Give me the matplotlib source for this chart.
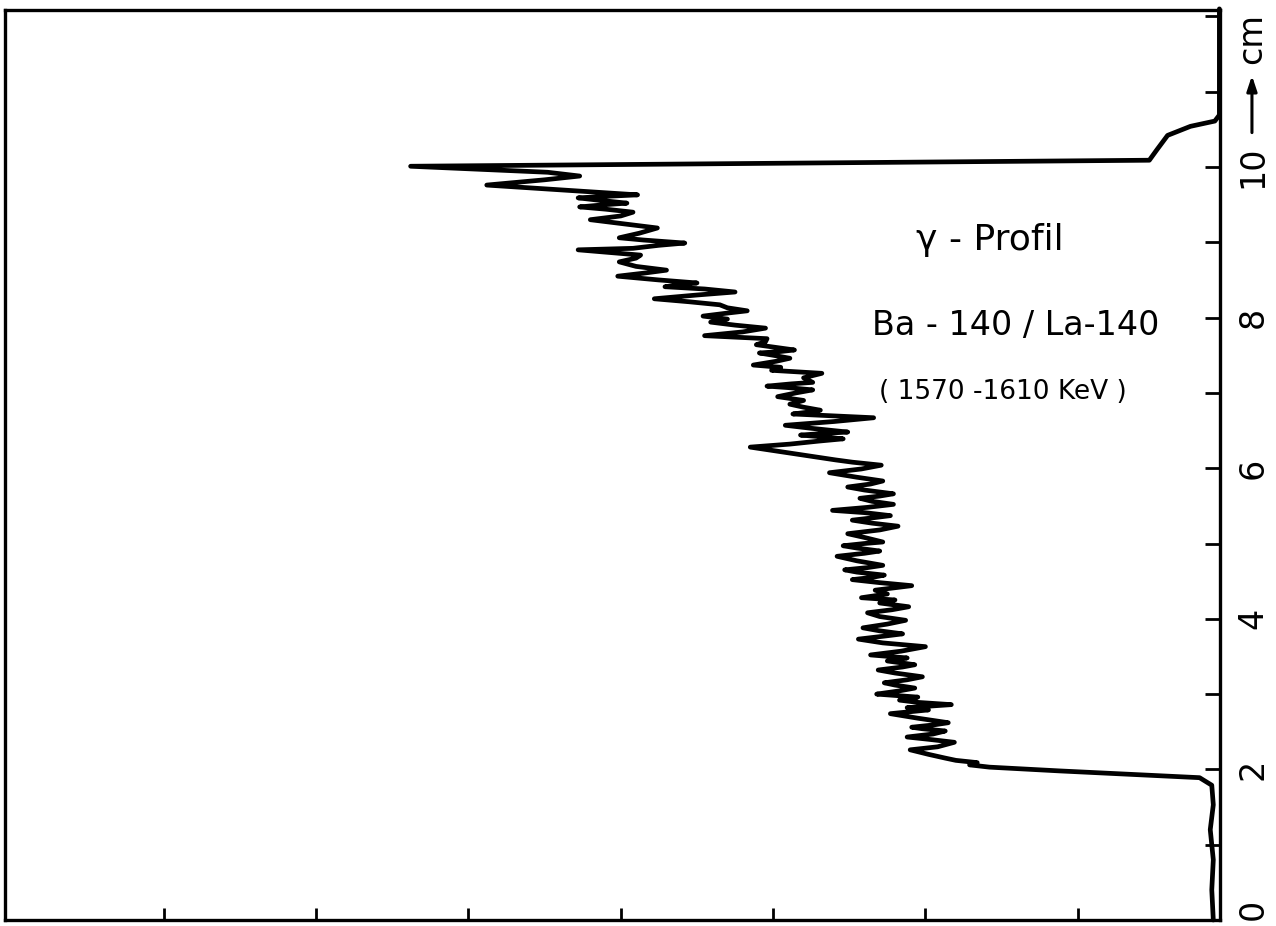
import matplotlib
matplotlib.use("Agg")
import matplotlib.pyplot as plt
from matplotlib.ticker import MultipleLocator, NullFormatter
import matplotlib.transforms as mtransforms

# Gamma scan along the sample: position (cm) and count-rate (arbitrary units)
position_cm = [
    0.00, 0.40, 0.80, 1.20, 1.53, 1.79, 1.89, 1.98, 2.03, 2.06,
    2.09, 2.12, 2.15, 2.20, 2.26, 2.30, 2.36, 2.40, 2.43, 2.47,
    2.51, 2.54, 2.56, 2.59, 2.62, 2.68, 2.74, 2.79, 2.82, 2.86,
    2.89, 2.92, 2.96, 3.00, 3.04, 3.08, 3.12, 3.15, 3.19, 3.23,
    3.28, 3.32, 3.36, 3.39, 3.44, 3.48, 3.52, 3.57, 3.63, 3.68,
    3.73, 3.77, 3.80, 3.84, 3.88, 3.93, 3.98, 4.03, 4.08, 4.12,
    4.16, 4.21, 4.25, 4.28, 4.33, 4.38, 4.44, 4.48, 4.52, 4.55,
    4.58, 4.62, 4.65, 4.68, 4.71, 4.77, 4.83, 4.87, 4.90, 4.94,
    4.97, 5.00, 5.02, 5.08, 5.13, 5.18, 5.23, 5.27, 5.31, 5.34,
    5.37, 5.41, 5.44, 5.48, 5.52, 5.56, 5.60, 5.63, 5.66, 5.71,
    5.75, 5.79, 5.83, 5.88, 5.94, 5.99, 6.04, 6.08, 6.11, 6.18,
    6.28, 6.32, 6.36, 6.39, 6.42, 6.44, 6.46, 6.48, 6.53, 6.57,
    6.62, 6.67, 6.70, 6.72, 6.75, 6.77, 6.81, 6.85, 6.90, 6.95,
    7.00, 7.04, 7.07, 7.09, 7.12, 7.14, 7.20, 7.26, 7.28, 7.30,
    7.34, 7.37, 7.42, 7.46, 7.50, 7.53, 7.55, 7.57, 7.61, 7.64,
    7.68, 7.72, 7.76, 7.81, 7.86, 7.90, 7.94, 7.98, 8.02, 8.06,
    8.09, 8.13, 8.17, 8.21, 8.25, 8.30, 8.34, 8.38, 8.41, 8.44,
    8.46, 8.50, 8.55, 8.59, 8.63, 8.68, 8.74, 8.79, 8.83, 8.90,
    8.92, 8.96, 8.99, 9.03, 9.06, 9.12, 9.19, 9.25, 9.30, 9.35,
    9.40, 9.44, 9.47, 9.50, 9.52, 9.56, 9.59, 9.61, 9.63, 9.76,
    9.83, 9.88, 9.93, 10.01, 10.09, 10.23, 10.42, 10.54, 10.61, 10.69,
    12.10,
]
intensity = [
    0.11, 0.12, 0.11, 0.13, 0.11, 0.12, 0.20, 1.12, 1.58, 1.71,
    1.66, 1.80, 1.87, 1.98, 2.10, 1.92, 1.81, 1.98, 2.12, 1.95,
    1.87, 2.02, 2.09, 1.95, 1.85, 2.05, 2.23, 1.98, 2.12, 1.83,
    2.05, 2.17, 2.05, 2.32, 2.18, 2.07, 2.20, 2.27, 2.12, 2.02,
    2.20, 2.31, 2.15, 2.07, 2.25, 2.12, 2.36, 2.16, 2.00, 2.28,
    2.44, 2.27, 2.15, 2.30, 2.41, 2.25, 2.13, 2.30, 2.38, 2.22,
    2.11, 2.30, 2.20, 2.42, 2.25, 2.33, 2.09, 2.30, 2.48, 2.35,
    2.27, 2.45, 2.53, 2.38, 2.28, 2.45, 2.58, 2.40, 2.30, 2.45,
    2.54, 2.40, 2.28, 2.40, 2.51, 2.30, 2.18, 2.35, 2.48, 2.35,
    2.23, 2.40, 2.61, 2.38, 2.21, 2.35, 2.43, 2.30, 2.21, 2.40,
    2.51, 2.36, 2.28, 2.45, 2.63, 2.42, 2.29, 2.48, 2.59, 2.82,
    3.15, 2.89, 2.70, 2.54, 2.70, 2.82, 2.68, 2.51, 2.75, 2.92,
    2.60, 2.34, 2.65, 2.87, 2.75, 2.69, 2.80, 2.89, 2.80, 2.97,
    2.85, 2.74, 2.90, 3.04, 2.88, 2.74, 2.80, 2.68, 2.85, 3.01,
    2.95, 3.13, 2.98, 2.89, 3.00, 3.09, 2.95, 2.86, 3.00, 3.11,
    3.05, 3.04, 3.45, 3.20, 3.05, 3.25, 3.41, 3.30, 3.46, 3.30,
    3.17, 3.30, 3.35, 3.55, 3.78, 3.50, 3.25, 3.45, 3.71, 3.60,
    3.50, 3.75, 4.02, 3.85, 3.70, 3.90, 4.01, 3.90, 3.87, 4.28,
    3.92, 3.75, 3.58, 3.85, 4.01, 3.88, 3.76, 4.00, 4.20, 4.00,
    3.92, 4.10, 4.27, 4.10, 3.96, 4.15, 4.28, 4.10, 3.89, 4.88,
    4.50, 4.27, 4.48, 5.38, 0.53, 0.48, 0.41, 0.26, 0.10, 0.07,
    0.07,
]

major_cm = [0, 2, 4, 6, 8, 10]
major_labels = ["0", "2", "4", "6", "8", "10"]
count_ticks = [1, 2, 3, 4, 5, 6, 7]

title_lines = ["γ - Profil", "Ba - 140 / La-140", "( 1570 -1610 KeV )"]

fig = plt.figure(figsize=(12.76, 9.26), dpi=100)
ax = fig.add_axes([5 / 1276, 6 / 926, 1215 / 1276, 910 / 926])

ax.plot(intensity, position_cm, color="black", lw=3.4,
        solid_joinstyle="round", solid_capstyle="round", clip_on=False)

# count-rate grows to the left; position runs up the right-hand side
ax.set_xlim(8.043, 0.066)
ax.set_ylim(0, 12.085)

for sp in ax.spines.values():
    sp.set_linewidth(2.4)
    sp.set_color("black")

ax.xaxis.set_ticks(count_ticks)
ax.xaxis.set_major_formatter(NullFormatter())
ax.tick_params(axis="x", direction="in", length=9, width=2, bottom=True,
               top=False, labelbottom=False)

ax.yaxis.tick_right()
ax.set_yticks(major_cm)
ax.set_yticklabels(major_labels)
ax.yaxis.set_minor_locator(MultipleLocator(1))
ax.tick_params(axis="y", which="both", direction="in", length=11, width=2,
               left=False, right=True, labelleft=False, labelright=True,
               pad=12, labelsize=24, labelrotation=90)
for lab in ax.get_yticklabels():
    lab.set_va("center")
# keep the lowest label inside the sheet
ax.get_yticklabels()[0].set_va("bottom")

# unit marker above the "10" label
trans = mtransforms.blended_transform_factory(ax.transAxes, ax.transData)
ax.annotate("", xy=(1.0263, 11.25), xytext=(1.0263, 10.42),
            xycoords=trans, textcoords=trans,
            arrowprops=dict(arrowstyle="-|>,head_length=0.9,head_width=0.3",
                            color="black", lw=2.2))
ax.text(1.0263, 11.70, "cm", transform=trans, rotation=90, fontsize=24,
        ha="center", va="center")

ax.text(1.58, 9.03, title_lines[0], fontsize=26, ha="center", va="center")
ax.text(1.41, 7.90, title_lines[1], fontsize=24, ha="center", va="center")
ax.text(1.49, 7.01, title_lines[2], fontsize=19, ha="center", va="center")

fig.savefig("out.png", dpi=100, facecolor="white")
